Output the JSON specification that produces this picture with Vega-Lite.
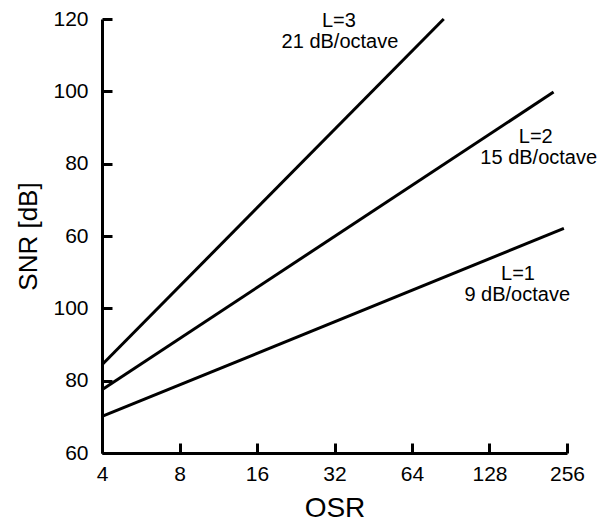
{
  "$schema": "https://vega.github.io/schema/vega-lite/v6.json",
  "width": 465,
  "height": 434,
  "autosize": {"type": "none"},
  "padding": {"left": 102, "top": 19, "right": 35, "bottom": 70},
  "background": "white",
  "config": {
    "view": {"stroke": null},
    "font": "Liberation Sans",
    "axis": {
      "domainColor": "black", "domainWidth": 3, "tickColor": "black", "tickWidth": 3,
      "labelColor": "black", "labelFont": "Liberation Sans", "labelFontSize": 21,
      "titleColor": "black", "titleFont": "Liberation Sans", "titleFontSize": 28, "titleFontWeight": "normal",
      "grid": false
    }
  },
  "datasets": {
    "lines": [
      {"L": "L=1", "osr": 4, "snr": 10.1},
      {"L": "L=1", "osr": 249, "snr": 62.1},
      {"L": "L=2", "osr": 4, "snr": 17.5},
      {"L": "L=2", "osr": 227, "snr": 99.8},
      {"L": "L=3", "osr": 4, "snr": 24.4},
      {"L": "L=3", "osr": 85, "snr": 120}
    ],
    "labels": [
      {"osr": 33.3, "snr": 119.4, "text": "L=3"},
      {"osr": 33.6, "snr": 113.6, "text": "21 dB/octave"},
      {"osr": 193.6, "snr": 87.5, "text": "L=2"},
      {"osr": 198.8, "snr": 81.5, "text": "15 dB/octave"},
      {"osr": 165.2, "snr": 49.4, "text": "L=1"},
      {"osr": 164.0, "snr": 43.7, "text": "9 dB/octave"}
    ]
  },
  "layer": [
    {
      "data": {"name": "lines"},
      "mark": {"type": "line", "color": "black", "strokeWidth": 3},
      "encoding": {
        "x": {
          "field": "osr", "type": "quantitative",
          "scale": {"type": "log", "base": 2, "domain": [4, 256], "nice": false},
          "axis": {"values": [4, 8, 16, 32, 64, 128, 256], "title": "OSR", "tickSize": -10, "labelPadding": 20, "titlePadding": 10, "labelFlush": false}
        },
        "y": {
          "field": "snr", "type": "quantitative",
          "scale": {"domain": [0, 120], "nice": false},
          "axis": {
            "values": [0, 20, 40, 60, 80, 100, 120],
            "labelExpr": "datum.value == 0 ? '60' : datum.value == 20 ? '80' : datum.value == 40 ? '100' : datum.value == 60 ? '60' : datum.value == 80 ? '80' : datum.value == 100 ? '100' : '120'",
            "title": "SNR [dB]", "titleFontSize": 26, "tickSize": -10, "labelPadding": 24, "titlePadding": 11
          }
        },
        "detail": {"field": "L"}
      }
    },
    {
      "data": {"name": "labels"},
      "mark": {"type": "text", "color": "black", "fontSize": 20, "font": "Liberation Sans"},
      "encoding": {
        "x": {"field": "osr", "type": "quantitative"},
        "y": {"field": "snr", "type": "quantitative"},
        "text": {"field": "text"}
      }
    }
  ]
}
